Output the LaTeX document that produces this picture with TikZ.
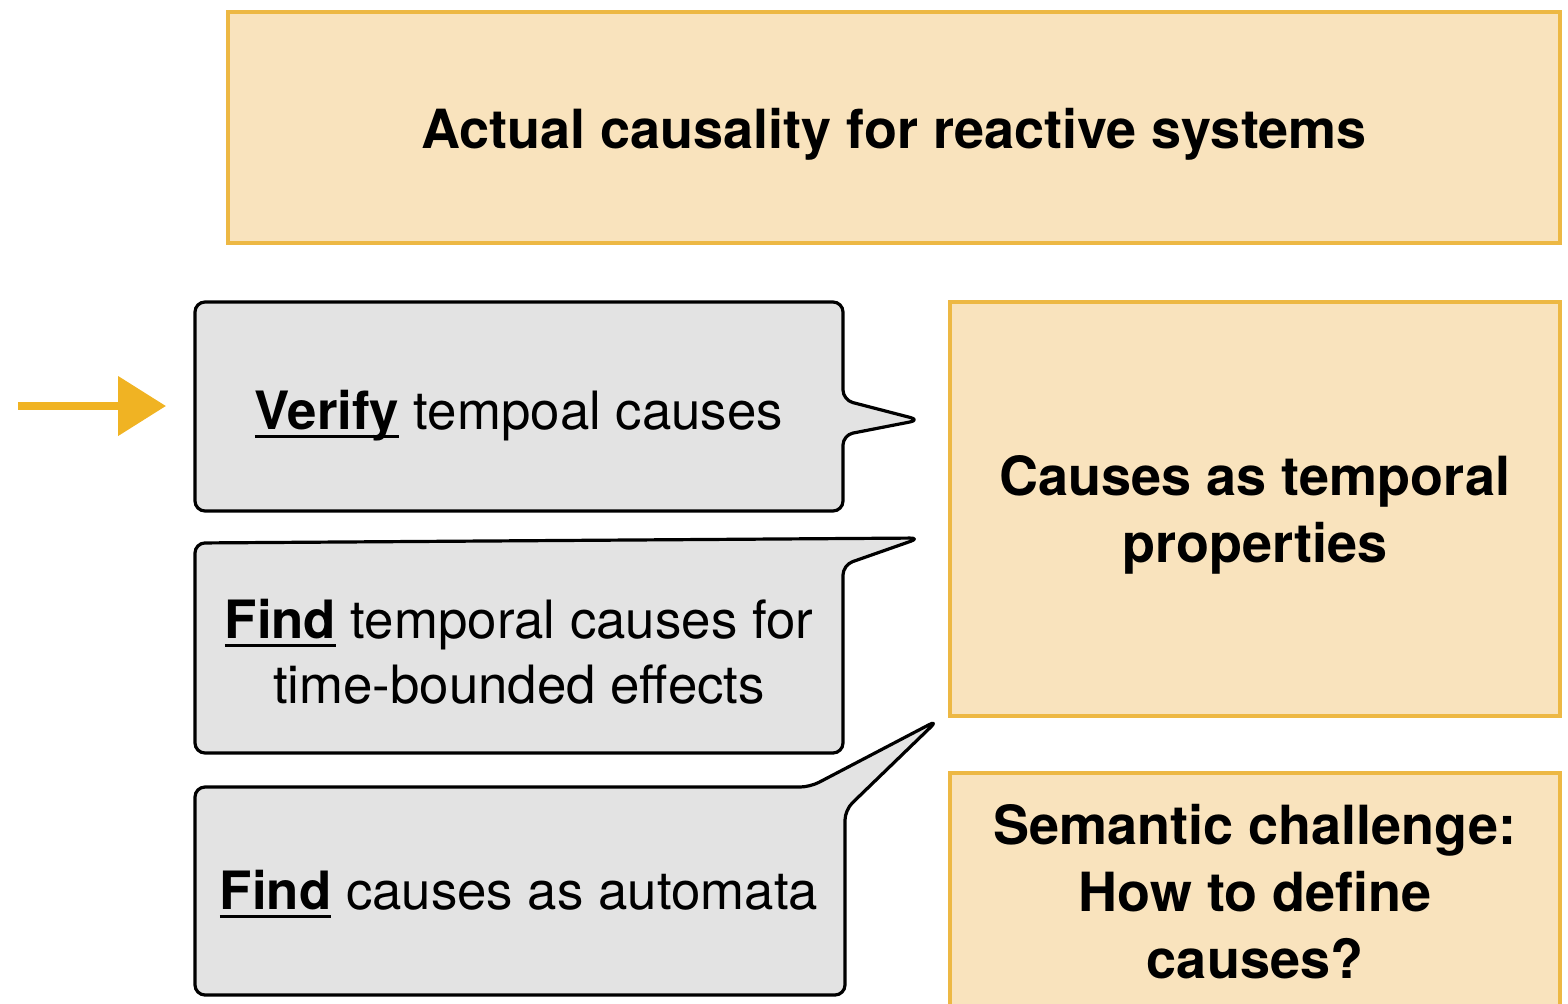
\documentclass[tikz,border=0pt]{standalone}
\usepackage{fontspec}
\setmainfont{TeX Gyre Heros}
\usetikzlibrary{arrows.meta}
\definecolor{ofill}{HTML}{F9E3BD}
\definecolor{oline}{HTML}{EDB844}
\definecolor{gfill}{HTML}{E3E3E3}
\definecolor{arrowc}{HTML}{F0B323}
\tikzset{
  obox/.style={draw=oline, fill=ofill, line width=1.9pt, align=center, inner sep=0pt,
    font=\fontsize{27}{33.5}\selectfont\bfseries},
  callout/.style={draw=black, fill=gfill, line width=1.6pt, rounded corners=5pt, line join=round},
  ctext/.style={align=center, inner sep=0pt, font=\fontsize{26.4}{32.5}\selectfont},
}
\newlength\ulwd
\newcommand{\ulb}[1]{\settowidth\ulwd{\textbf{#1}}\rlap{\rule[-4pt]{\ulwd}{1.4pt}}\textbf{#1}}
\begin{document}
\begin{tikzpicture}[x=0.5pt,y=-0.5pt]
\useasboundingbox (0,0) rectangle (1568,1003);
% orange boxes
\node[obox, minimum width=666pt, minimum height=115.5pt] (title) at (894,127.5) {};
\node[obox, minimum width=305pt, minimum height=207pt] (prop) at (1255,509) {};
\node[obox, minimum width=305pt, minimum height=121pt] (sem) at (1255,894) {};
\node[font=\fontsize{27}{33.5}\selectfont\bfseries, inner sep=0pt] (titletext) at (894,134) {Actual causality for reactive systems};
\node[font=\fontsize{27}{33.5}\selectfont\bfseries, align=center, inner sep=0pt] (proptext) at (1255,515) {Causes as temporal\\properties};
\node[font=\fontsize{27}{33.5}\selectfont\bfseries, align=center, inner sep=0pt] (semtext) at (1255,892) {Semantic challenge:\\How to define\\causes?};
% callouts
\draw[callout] (195,302) -- (843,302) -- (843,400) -- (920,420) -- (843,435) -- (843,511) -- (195,511) -- cycle;
\draw[callout] (195,543) -- (920,538) -- (843,565) -- (843,753) -- (195,753) -- cycle;
\draw[callout] (195,787) -- (810,787) -- (938,720) -- (845,810) -- (845,995) -- (195,995) -- cycle;
\node[ctext] (v1) at (519,416) {\ulb{Verify} tempoal causes};
\node[ctext] (v2) at (519,652) {\ulb{Find} temporal causes for\\time-bounded effects};
\node[ctext] (v3) at (519,894) {\ulb{Find} causes as automata};
% arrow
\coordinate (a0) at (18,406);
\coordinate (a1) at (166,406);
\draw[arrowc, line width=4pt, -{Triangle[length=24pt,width=29pt]}] (a0) -- (a1);
\end{tikzpicture}
\end{document}
